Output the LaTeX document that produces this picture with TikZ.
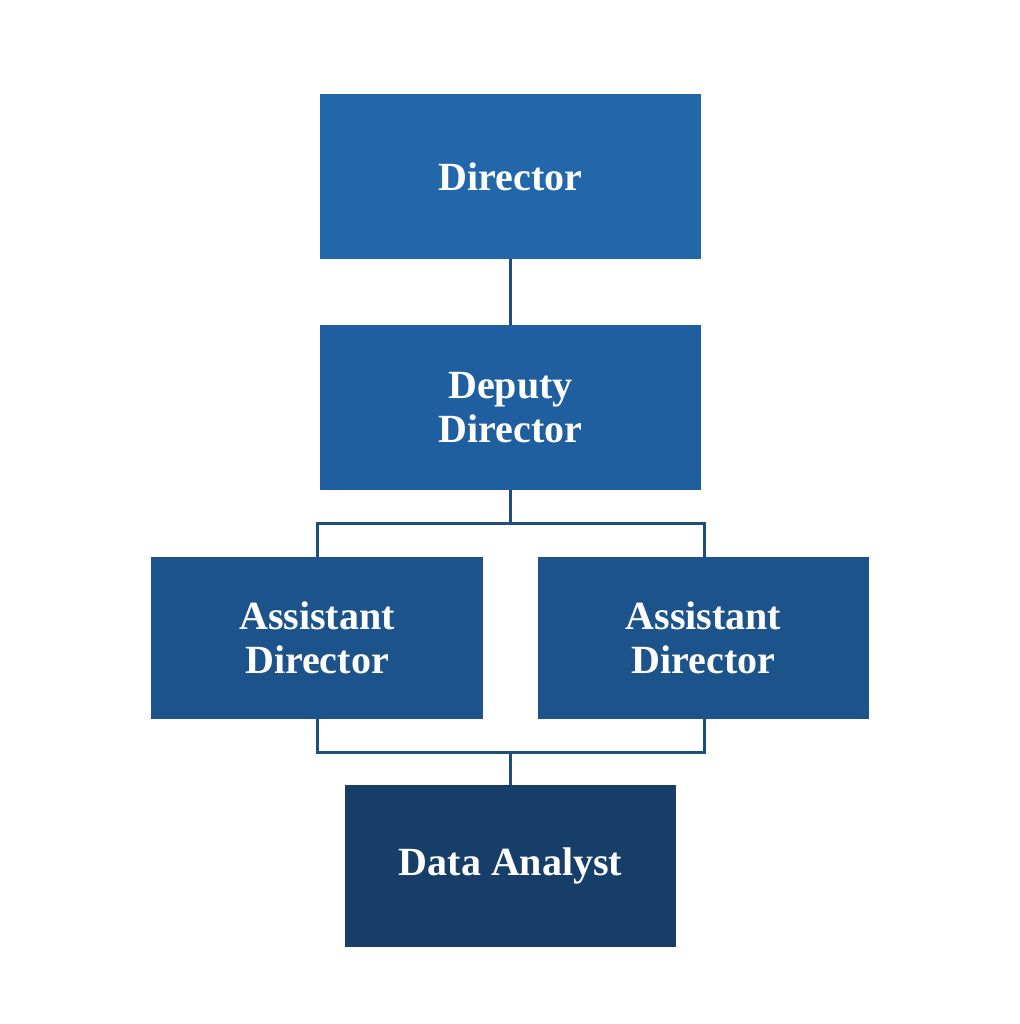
\documentclass[tikz,border=0pt]{standalone}
\usepackage{fontspec}
\setmainfont{Liberation Serif}
\begin{document}
\begin{tikzpicture}[x=1pt,y=-1pt,
  box/.style={draw=none,minimum width=#1,align=center,text=white,font=\fontsize{40}{44}\selectfont\bfseries,inner sep=0pt},
  ln/.style={draw=linec,line width=3pt}]
\definecolor{c1}{HTML}{2267A9}
\definecolor{c2}{HTML}{1F5F9F}
\definecolor{c3}{HTML}{1C538B}
\definecolor{c4}{HTML}{173D69}
\definecolor{linec}{HTML}{1F4E7C}
\useasboundingbox (0,0) rectangle (1019,1024);
\node[box=381pt,fill=c1,minimum height=165pt] (dir) at (510.5,176.5) {Director};
\node[box=381pt,fill=c2,minimum height=165pt] (dep) at (510.5,407.5) {Deputy\\Director};
\node[box=332pt,fill=c3,minimum height=162pt] (al) at (317,638) {Assistant\\Director};
\node[box=331pt,fill=c3,minimum height=162pt] (ar) at (703.5,638) {Assistant\\Director};
\node[box=331pt,fill=c4,minimum height=162pt] (da) at (510.5,866) {Data Analyst};
\coordinate (t1) at (317,523); \coordinate (t2) at (704,523);
\coordinate (b1) at (317,752); \coordinate (b2) at (704,752);
\draw[ln] (dir.south) -- (dep.north);
\draw[ln] (dep.south) -- (dep.south |- t1);
\draw[ln] (al.north -| t1) -- (t1) -- (t2) -- (ar.north -| t2);
\draw[ln] (al.south -| b1) -- (b1) -- (b2) -- (ar.south -| b2);
\draw[ln] (da.north |- b1) -- (da.north);
\end{tikzpicture}
\end{document}
